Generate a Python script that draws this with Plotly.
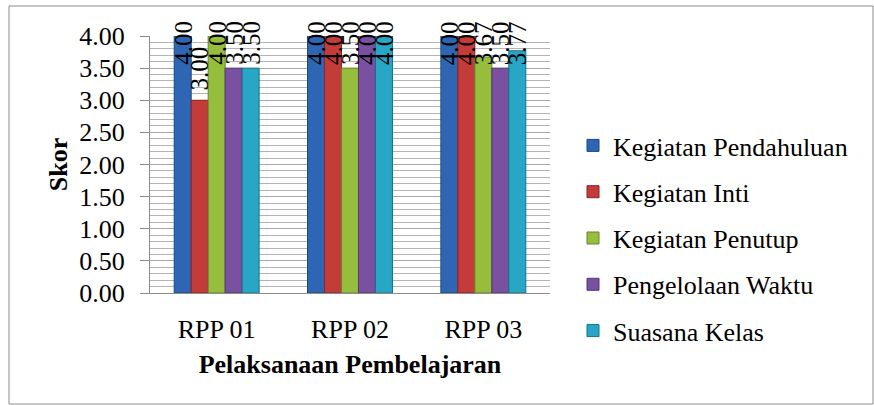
import plotly.graph_objects as go

# Skor per komponen pelaksanaan pembelajaran
categories = ["RPP 01", "RPP 02", "RPP 03"]
kegiatan_pendahuluan = [4.00, 4.00, 4.00]
kegiatan_inti = [3.00, 4.00, 4.00]
kegiatan_penutup = [4.00, 3.50, 3.67]
pengelolaan_waktu = [3.50, 4.00, 3.50]
suasana_kelas = [3.50, 4.00, 3.77]
y_ticks = [0.0, 0.5, 1.0, 1.5, 2.0, 2.5, 3.0, 3.5, 4.0]

series = [
    ("Kegiatan Pendahuluan", kegiatan_pendahuluan, "#2f66b3", "#1d477f"),
    ("Kegiatan Inti", kegiatan_inti, "#c43c39", "#8a2422"),
    ("Kegiatan Penutup", kegiatan_penutup, "#96bd3c", "#66852a"),
    ("Pengelolaan Waktu", pengelolaan_waktu, "#7a50a0", "#553672"),
    ("Suasana Kelas", suasana_kelas, "#28a6c6", "#19718a"),
]

FONT = "Liberation Serif"
W, H = 874, 405
ML, MR, MT, MB = 150, 324, 36, 112

bargap = 0.363
n = len(series)
bar_w = (1 - bargap) / n

fig = go.Figure()
annotations = []
for j, (name, vals, color, edge) in enumerate(series):
    fig.add_trace(go.Bar(
        x=list(range(len(categories))),
        y=vals,
        name=name,
        legendgroup=name,
        marker=dict(color=color, line=dict(color=edge, width=1)),
    ))
    for i, v in enumerate(vals):
        annotations.append(dict(
            x=i + (j - (n - 1) / 2) * bar_w,
            y=min(v + 0.6, 4.0),
            xref="x", yref="y",
            yshift=-7,
            text=f"{v:.2f}",
            textangle=-90,
            showarrow=False,
            xanchor="center", yanchor="middle",
            font=dict(family=FONT, size=25, color="#000000"),
        ))

# frame around the whole chart, expressed in paper units
pw, ph = W - ML - MR, H - MT - MB
def px_x(p):
    return (p - ML) / pw
def px_y(p):
    return 1 - (p - MT) / ph

fig.update_layout(
    width=W, height=H,
    margin=dict(l=ML, r=MR, t=MT, b=MB),
    paper_bgcolor="white", plot_bgcolor="white",
    barmode="group", bargap=bargap, bargroupgap=0,
    font=dict(family=FONT, size=26, color="#000000"),
    showlegend=True,
    legend=dict(
        x=px_x(573), y=px_y(122), xanchor="left", yanchor="top",
        font=dict(family=FONT, size=26, color="#000000"),
        tracegroupgap=9.5, bgcolor="rgba(0,0,0,0)",
    ),
    xaxis=dict(
        tickmode="array",
        tickvals=list(range(len(categories))),
        ticktext=categories,
        range=[-0.5, len(categories) - 0.5],
        showline=True, linecolor="#8c8c8c", linewidth=1,
        ticks="", showgrid=False, zeroline=False,
        ticklabelstandoff=13,
        tickfont=dict(family=FONT, size=26),
        title=dict(text="<b>Pelaksanaan Pembelajaran</b>",
                   font=dict(family=FONT, size=26), standoff=11),
    ),
    yaxis=dict(
        range=[0, 4],
        tickmode="array", tickvals=y_ticks,
        tickformat=".2f",
        showline=True, linecolor="#8c8c8c", linewidth=1,
        ticks="outside", ticklen=9, tickcolor="#8c8c8c",
        ticklabelstandoff=10,
        showgrid=True, gridcolor="#a6a6a6", gridwidth=1,
        minor=dict(dtick=0.1, showgrid=True, gridcolor="#b4b4b4", gridwidth=1),
        zeroline=False,
        tickfont=dict(family=FONT, size=26),
        title=dict(text="<b>Skor</b>", font=dict(family=FONT, size=26), standoff=4),
    ),
    annotations=annotations,
    shapes=[dict(
        type="rect", xref="paper", yref="paper",
        x0=px_x(9), x1=px_x(873), y0=px_y(404), y1=px_y(6),
        line=dict(color="#8c8c8c", width=1), fillcolor="rgba(0,0,0,0)",
        layer="below",
    )],
)

fig.write_html("out.html")
